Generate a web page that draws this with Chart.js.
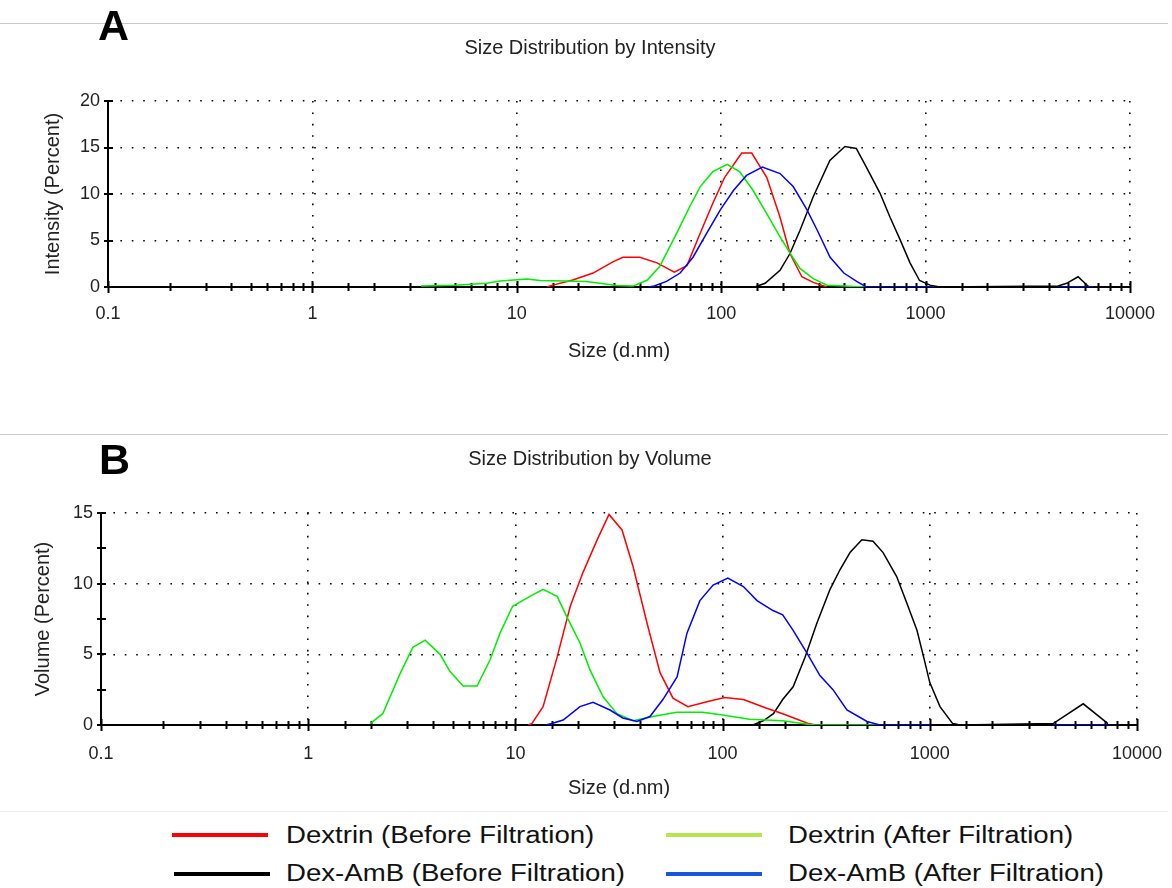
<!DOCTYPE html>
<html>
<head>
<meta charset="utf-8">
<script src="https://cdn.jsdelivr.net/npm/chart.js@4.4.1/dist/chart.umd.min.js"></script>
<style>
  html, body { margin: 0; padding: 0; background: #fff; }
  body { width: 1172px; height: 888px; position: relative; overflow: hidden; font-family: "Liberation Sans", Arial, sans-serif; }
  .box { position: absolute; left: 0; width: 1172px; }
  .sep { position: absolute; left: 0; width: 1168px; height: 1px; background: #c8c8c8; }
  .tag { position: absolute; font-weight: bold; font-size: 43px; line-height: 43px; color: #000; }
  .title { position: absolute; left: 0; width: 1180px; text-align: center; font-size: 20px; line-height: 24px; color: #222; }
  .leg-line { position: absolute; height: 4px; width: 96px; }
  .leg-text { position: absolute; font-size: 23px; line-height: 26px; color: #111; transform-origin: left center; transform: scaleX(1.2); white-space: nowrap; }
</style>
</head>
<body>
<div class="box" id="wrapA" style="top:0;height:370px;"><canvas id="chartA"></canvas></div>
<div class="box" id="wrapB" style="top:400px;height:400px;"><canvas id="chartB"></canvas></div>

<div class="sep" style="top:23px;"></div>
<div class="sep" style="top:434px;"></div>
<div class="sep" style="top:811px;background:#eeeeee;"></div>
<div class="tag" style="left:98px;top:4px;">A</div>
<div class="tag" style="left:99px;top:438px;">B</div>
<div class="title" style="top:35px;">Size Distribution by Intensity</div>
<div class="title" style="top:446px;">Size Distribution by Volume</div>

<div class="leg-line" style="left:172px;top:833px;background:#ff0000;"></div>
<div class="leg-text" style="left:286px;top:822px;">Dextrin (Before Filtration)</div>
<div class="leg-line" style="left:666px;top:833px;background:#b4e650;"></div>
<div class="leg-text" style="left:788px;top:822px;">Dextrin (After Filtration)</div>
<div class="leg-line" style="left:174px;top:872px;background:#000000;"></div>
<div class="leg-text" style="left:286px;top:860px;">Dex-AmB (Before Filtration)</div>
<div class="leg-line" style="left:666px;top:872px;background:#1a56dc;"></div>
<div class="leg-text" style="left:788px;top:860px;">Dex-AmB (After Filtration)</div>

<script>
// A: Size Distribution by Intensity
const intRedX   = [14, 15, 18.8, 23.6, 29.5, 33, 40, 48.5, 59, 68, 79, 91, 104, 126, 141, 167, 194, 217, 248, 282, 329];
const intRedY   = [0, 0.2, 0.75, 1.5, 2.7, 3.2, 3.2, 2.6, 1.6, 2.3, 5.8, 9.0, 11.8, 14.4, 14.4, 11.8, 7.5, 3.6, 1.1, 0.5, 0];
const intGreenX = [3.4, 5, 7.1, 8.3, 11.2, 13, 17, 21.9, 30.8, 37, 43.5, 50, 60.6, 70, 79, 91, 107, 123, 143, 167, 194, 218, 243, 282, 329, 513];
const intGreenY = [0.1, 0.2, 0.4, 0.65, 0.85, 0.7, 0.65, 0.6, 0.15, 0.1, 0.75, 2.2, 5.8, 8.6, 10.8, 12.4, 13.2, 12.4, 10.4, 7.9, 5.4, 3.6, 2.0, 0.9, 0.2, 0];
const intBlackX = [146, 164, 194, 217, 243, 282, 340, 403, 458, 513, 598, 670, 750, 839, 934, 1050, 1175, 4450, 4900, 5570, 6300];
const intBlackY = [0, 0.4, 1.8, 3.6, 6.1, 9.7, 13.6, 15.1, 14.9, 12.9, 10.1, 7.5, 5.1, 2.6, 0.7, 0.2, 0, 0.1, 0.4, 1.1, 0];
const intBlueX  = [44, 47, 54, 63, 72.8, 85, 99, 115, 133, 159, 194, 225, 263, 295, 341, 398, 460, 513, 1100, 2000, 4450, 6600];
const intBlueY  = [0, 0.1, 0.6, 1.5, 3.2, 5.8, 8.3, 10.4, 12.0, 12.9, 12.2, 10.8, 8.3, 6.1, 3.2, 1.5, 0.6, 0, 0, null, 0, 0];

// B: Size Distribution by Volume
const volRedX   = [11.5, 12, 13.6, 15.9, 18.4, 21.2, 24.8, 28.3, 32.7, 37, 43.2, 49.9, 57.6, 68, 84, 102, 126, 162, 195, 234, 260, 280];
const volRedY   = [0, 0.1, 1.3, 4.8, 8.4, 10.8, 13.1, 14.9, 13.8, 11.2, 7.2, 3.7, 1.9, 1.3, 1.65, 1.95, 1.8, 1.2, 0.8, 0.35, 0.1, 0];
const volGreenX = [1.99, 2.29, 2.77, 3.2, 3.67, 4.33, 4.83, 5.59, 6.53, 7.54, 8.43, 9.7, 11.75, 13.6, 15.9, 17.8, 20.5, 22.9, 26.5, 30.9, 37, 46, 60, 80, 100, 135, 195, 274, 574];
const volGreenY = [0.1, 0.8, 3.6, 5.5, 6.0, 5.0, 3.8, 2.76, 2.76, 4.6, 6.5, 8.4, 9.1, 9.6, 9.1, 7.6, 5.8, 3.9, 2.0, 0.8, 0.3, 0.6, 0.9, 0.9, 0.7, 0.4, 0.3, 0, 0];
const volBlackX = [140, 157, 176, 195, 219, 250, 285, 330, 369, 412, 470, 532, 595, 692, 776, 867, 934, 1000, 1120, 1290, 1400, 3940, 5500, 7240];
const volBlackY = [0, 0.3, 0.8, 1.8, 2.7, 4.8, 7.2, 9.6, 11.0, 12.2, 13.1, 13.0, 12.2, 10.5, 8.6, 6.7, 4.8, 3.0, 1.3, 0.1, 0, 0.1, 1.5, 0.1];
const volBlueX  = [14, 15, 17, 20.5, 23.7, 28.6, 33, 38.6, 44.6, 51.5, 60.3, 67.3, 77.7, 90, 106, 126, 146.6, 175, 195, 219, 255, 295, 341, 398, 498, 574, 1000, 2000, 3940, 7240];
const volBlueY  = [0, 0.1, 0.35, 1.3, 1.6, 1.06, 0.5, 0.25, 0.6, 1.8, 3.4, 6.5, 8.8, 9.9, 10.4, 9.8, 8.8, 8.1, 7.8, 6.7, 5.1, 3.5, 2.5, 1.06, 0.25, 0, 0, null, 0, 0];

const FONT = '"Liberation Sans", Arial, sans-serif';
const TXT = '#222';

function pts(xs, ys) {
    return xs.map((x, i) => ({ x: x, y: ys[i] }));
}

function isDecade(v) {
    const l = Math.log10(v);
    return Math.abs(l - Math.round(l)) < 1e-6;
}

// small tick marks crossing both axes
const crossTicks = {
    id: 'crossTicks',
    beforeDatasetsDraw(chart) {
        const ctx = chart.ctx;
        const area = chart.chartArea;
        const sx = chart.scales.x, sy = chart.scales.y;
        ctx.save();
        ctx.strokeStyle = '#000';
        ctx.lineWidth = 2;
        ctx.beginPath();
        sx.ticks.forEach(t => {
            const px = Math.round(sx.getPixelForValue(t.value)) + 0.5;
            const len = isDecade(t.value) ? 6 : 4;
            ctx.moveTo(px, area.bottom - len);
            ctx.lineTo(px, area.bottom + len);
        });
        sy.ticks.forEach(t => {
            const py = Math.round(sy.getPixelForValue(t.value));
            ctx.moveTo(area.left - 4, py);
            ctx.lineTo(area.left + 5, py);
        });
        ctx.stroke();
        ctx.restore();
    }
};

function makeChart(id, cfg) {
    const line = (data, color) => ({
        data: data,
        borderColor: color,
        borderWidth: 1.5,
        pointRadius: 0,
        fill: false,
        tension: 0,
        spanGaps: false
    });
    return new Chart(document.getElementById(id), {
        type: 'line',
        data: {
            datasets: [
                line(cfg.blue, '#0000ff'),
                line(cfg.green, '#00ee00'),
                line(cfg.red, '#ff0000'),
                line(cfg.black, '#000000')
            ]
        },
        options: {
            responsive: true,
            maintainAspectRatio: false,
            animation: false,
            layout: { padding: { left: 0, right: cfg.padRight, top: cfg.padTop, bottom: 0 } },
            plugins: {
                legend: { display: false },
                tooltip: { enabled: false },
                title: { display: false }
            },
            scales: {
                x: {
                    type: 'logarithmic',
                    min: 0.1,
                    max: 10000,
                    afterFit(s) { s.height = cfg.xHeight; },
                    border: { display: true, color: '#000', width: 2, dash: [1.6, 9.8] },
                    grid: {
                        drawTicks: true,
                        tickLength: cfg.xTickPad,
                        tickColor: 'rgba(0,0,0,0)',
                        lineWidth: 1.6,
                        color: c => (c.tick && isDecade(c.tick.value)) ? '#000' : 'rgba(0,0,0,0)'
                    },
                    ticks: {
                        autoSkip: false,
                        maxRotation: 0,
                        padding: 2,
                        color: TXT,
                        font: { family: FONT, size: 18 },
                        callback: v => isDecade(v) ? String(+v.toPrecision(6)) : ''
                    },
                    title: {
                        display: true,
                        text: 'Size (d.nm)',
                        color: TXT,
                        font: { family: FONT, size: 20 },
                        padding: { top: 0, bottom: cfg.xTitlePad }
                    }
                },
                y: {
                    min: 0,
                    max: cfg.yMax,
                    afterFit(s) { s.width = cfg.yWidth; },
                    border: { display: true, color: '#000', width: 2, dash: [1.6, 9.8] },
                    grid: {
                        drawTicks: false,
                        lineWidth: 1.6,
                        color: c => (c.tick && c.tick.value % 5 === 0 && c.tick.value > 0) ? '#000' : 'rgba(0,0,0,0)'
                    },
                    ticks: {
                        stepSize: 2.5,
                        padding: 8,
                        color: TXT,
                        font: { family: FONT, size: 18 },
                        callback: v => (v % 5 === 0) ? String(v) : ''
                    },
                    title: {
                        display: true,
                        text: cfg.yTitle,
                        color: TXT,
                        font: { family: FONT, size: 20 },
                        padding: { top: cfg.yTitlePad, bottom: 0 }
                    }
                }
            }
        },
        plugins: [crossTicks]
    });
}

makeChart('chartA', {
    yTitle: 'Intensity (Percent)',
    yMax: 20,
    red: pts(intRedX, intRedY),
    green: pts(intGreenX, intGreenY),
    black: pts(intBlackX, intBlackY),
    blue: pts(intBlueX, intBlueY),
    padRight: 42,
    padTop: 101,
    xHeight: 83,
    xTickPad: 14,
    xTitlePad: 7,
    yWidth: 108,
    yTitlePad: 41
});

makeChart('chartB', {
    yTitle: 'Volume (Percent)',
    yMax: 15,
    red: pts(volRedX, volRedY),
    green: pts(volGreenX, volGreenY),
    black: pts(volBlackX, volBlackY),
    blue: pts(volBlueX, volBlueY),
    padRight: 35,
    padTop: 113,
    xHeight: 75,
    xTickPad: 16,
    xTitlePad: 0,
    yWidth: 101,
    yTitlePad: 31
});
</script>
</body>
</html>
